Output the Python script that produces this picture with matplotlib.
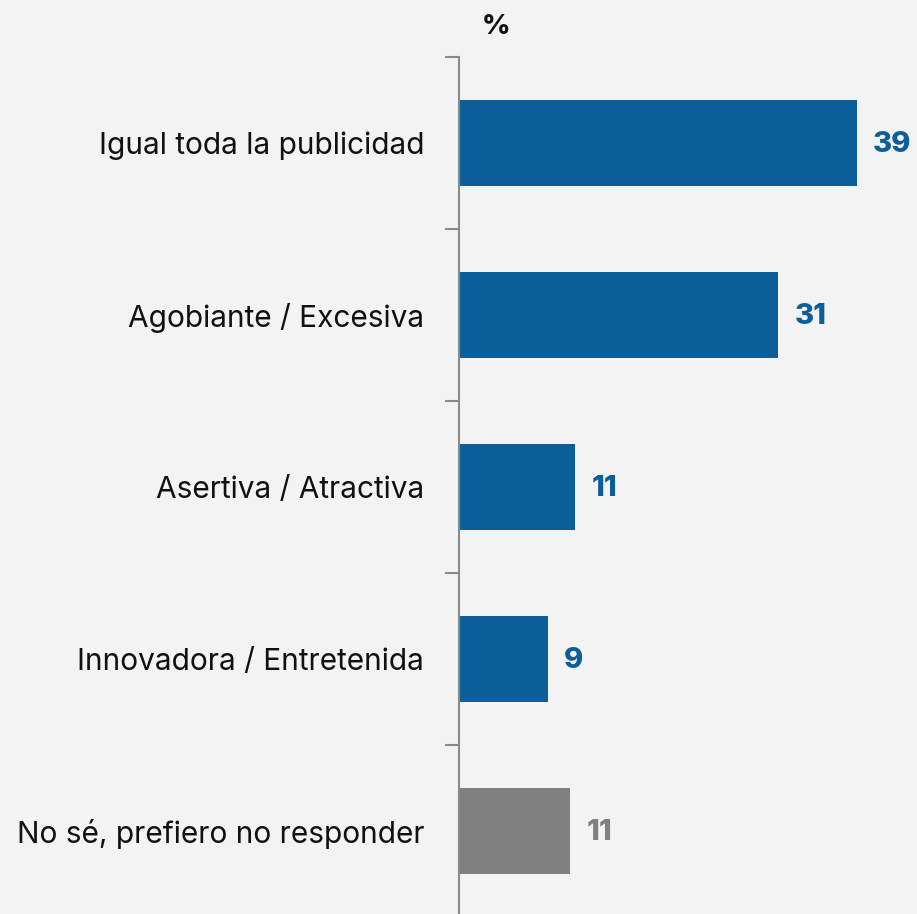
import matplotlib
matplotlib.use("Agg")
import matplotlib.pyplot as plt

categories = ["Igual toda la publicidad", "Agobiante / Excesiva", "Asertiva / Atractiva",
              "Innovadora / Entretenida", "No sé, prefiero no responder"]
values = [39.0, 31.3, 11.4, 8.7, 10.9]
labels = ["39", "31", "11", "9", "11"]
colors = ["#0b5e99", "#0b5e99", "#0b5e99", "#0b5e99", "#808080"]

W, H = 917, 914
fig = plt.figure(figsize=(W / 100, H / 100), dpi=100)
bg = "#f3f3f3"
fig.patch.set_facecolor(bg)
left = 459 / W
top = 57
bottom_px = 917
ax = fig.add_axes([left, (H - bottom_px) / H, 1 - left, (bottom_px - top) / H])
ax.set_facecolor(bg)

n = len(categories)
ypos = list(range(n))
ax.barh(ypos, values, height=0.5, color=colors)
ax.set_ylim(n - 0.5, -0.5)
ax.set_xlim(0, (W - 459) / 10.2)

for y, v, lab, c in zip(ypos, values, labels, colors):
    ax.text(v + 1.6, y + 0.01, lab, ha="left", va="center", fontsize=21, fontweight="heavy",
            color=c, family=["Inter", "DejaVu Sans"])

ax.set_yticks([y - 0.5 for y in ypos] + [n - 0.5])
ax.set_yticklabels([])
ax.tick_params(axis="y", length=10, width=1.5, color="#8a8a8a", direction="out")
ax.set_yticks(ypos, minor=True)
ax.set_yticklabels(categories, minor=True, fontsize=21.5, color="#111111",
                   family=["Inter", "DejaVu Sans"])
ax.tick_params(axis="y", which="minor", length=0, pad=25)
ax.set_xticks([])
for s in ["top", "right", "bottom"]:
    ax.spines[s].set_visible(False)
ax.spines["left"].set_color("#8a8a8a")
ax.spines["left"].set_linewidth(1.5)

fig.text(496 / W, 1 - 27 / H, "%", ha="center", va="center", fontsize=20,
         fontweight="heavy", color="#111111", family=["Inter", "DejaVu Sans"])

fig.savefig("out.png", dpi=100, facecolor=bg)
